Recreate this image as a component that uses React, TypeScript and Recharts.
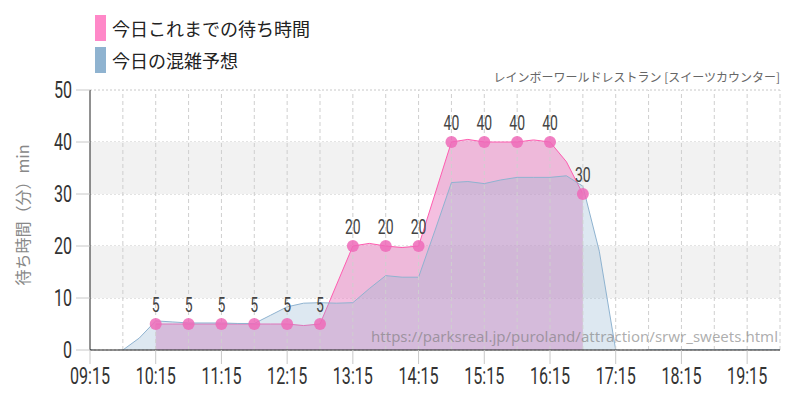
import { ComposedChart, Area, Line, XAxis, YAxis, CartesianGrid, ReferenceArea, ReferenceLine, LabelList } from "recharts";

// 15-minute slots from 09:15 to 19:45
const times = [
  "09:15", "09:30", "09:45", "10:00", "10:15", "10:30", "10:45", "11:00", "11:15", "11:30", "11:45",
  "12:00", "12:15", "12:30", "12:45", "13:00", "13:15", "13:30", "13:45", "14:00", "14:15", "14:30",
  "14:45", "15:00", "15:15", "15:30", "15:45", "16:00", "16:15", "16:30", "16:45", "17:00", "17:15",
  "17:30", "17:45", "18:00", "18:15", "18:30", "18:45", "19:00", "19:15", "19:30", "19:45",
];

// 今日の混雑予想 (forecast)
const forecast = [
  0, -0.3, 0, 2.3, 5.6, 5.4, 5.2, 5.2, 5.2, 5.1, 5.1,
  6.7, 8.3, 9.0, 9.1, 9.0, 9.1, 11.8, 14.3, 14.0, 14.0, 23,
  32.2, 32.4, 32.0, 32.7, 33.2, 33.2, 33.2, 33.5, 31.5, 19, 0,
  -0.4, 0, 0, 0, 0, 0, 0, 0, 0, 0,
];

// 今日これまでの待ち時間 (actual line, null = no reading)
const waitLine = [
  null, null, null, null, 5, 5, 5, 5, 5, 5, 5,
  5, 5, 4.7, 5, null, 20, 20.5, 20, 19.7, 20, null,
  40, 40.5, 40, 40, 40, 40.4, 40, 36.2, 30, null, null,
  null, null, null, null, null, null, null, null, null, null,
];

// recorded points with markers
const markTimes = ["10:15", "10:45", "11:15", "11:45", "12:15", "12:45", "13:15", "13:45", "14:15", "14:45", "15:15", "15:45", "16:15", "16:45"];
const markValues = [5, 5, 5, 5, 5, 5, 20, 20, 20, 40, 40, 40, 40, 30];

const xTickLabels = ["09:15", "10:15", "11:15", "12:15", "13:15", "14:15", "15:15", "16:15", "17:15", "18:15", "19:15"];
const yTicks = [0, 10, 20, 30, 40, 50];

const toMin = (s: string) => {
  const [h, m] = s.split(":").map(Number);
  return h * 60 + m;
};
const fmt = (v: number) => {
  const h = Math.floor(v / 60);
  const m = v % 60;
  return `${String(h).padStart(2, "0")}:${String(m).padStart(2, "0")}`;
};

const data = times.map((t, i) => {
  const mi = markTimes.indexOf(t);
  return { t: toMin(t), forecast: forecast[i], wait: waitLine[i], mark: mi >= 0 ? markValues[mi] : null };
});

const X0 = toMin("09:15");
const X1 = toMin("19:45");
const gridX: number[] = [];
for (let v = X0 + 30; v <= X1; v += 30) gridX.push(v);

// condensed look: Roboto squeezed horizontally
const NUM_FONT = "Roboto, sans-serif";
const SQUEEZE = 0.7;
const JP = "'Noto Sans CJK JP', sans-serif";

const XTick = (p: any) => (
  <g transform={`translate(${p.x},${p.y})`}>
    <text transform={`scale(${SQUEEZE},1)`} textAnchor="middle" y={16} fill="#333" fontSize={23} fontFamily={NUM_FONT}>
      {fmt(p.payload.value)}
    </text>
  </g>
);

const YTick = (p: any) => (
  <g transform={`translate(${p.x},${p.y})`}>
    <text transform={`scale(${SQUEEZE},1)`} textAnchor="end" y={8} fill="#333" fontSize={23} fontFamily={NUM_FONT}>
      {p.payload.value}
    </text>
  </g>
);

const PointLabel = (p: any) => {
  if (p.value == null) return null;
  return (
    <g transform={`translate(${p.x},${p.y - 12})`}>
      <text transform={`scale(${SQUEEZE},1)`} textAnchor="middle" fill="#444" fontSize={20} fontFamily={NUM_FONT}>
        {p.value}
      </text>
    </g>
  );
};

export default function App() {
  return (
    <div style={{ position: "absolute", left: 0, top: 0, width: 800, height: 400, background: "#fff", fontFamily: JP }}>
      <ComposedChart width={800} height={400} data={data} margin={{ top: 90, right: 20, bottom: 0, left: 0 }}>
        <ReferenceArea y1={10} y2={20} fill="#f2f2f2" fillOpacity={1} stroke="none" />
        <ReferenceArea y1={30} y2={40} fill="#f2f2f2" fillOpacity={1} stroke="none" />
        <CartesianGrid vertical={false} stroke="#c8c8c8" strokeDasharray="2 2" />
        {gridX.map((v) => (
          <ReferenceLine key={v} x={v} stroke="#cfcfcf" strokeDasharray="4 3" />
        ))}
        <XAxis
          type="number"
          dataKey="t"
          domain={[X0, X1]}
          ticks={xTickLabels.map(toMin)}
          height={50}
          tickSize={14}
          tickMargin={4}
          stroke="#222"
          tickLine={{ stroke: "#c8c8c8" }}
          tick={XTick}
          allowDataOverflow
        />
        <YAxis
          domain={[0, 50]}
          ticks={yTicks}
          width={90}
          tickSize={14}
          tickMargin={4}
          stroke="#222"
          tickLine={{ stroke: "#c8c8c8" }}
          tick={YTick}
          allowDataOverflow
        />
        <Area
          type="linear"
          dataKey="wait"
          stroke="#ff5cb0"
          strokeWidth={1}
          fill="#ea7fc2"
          fillOpacity={0.5}
          connectNulls
          dot={false}
          activeDot={false}
          isAnimationActive={false}
        />
        <Area
          type="linear"
          dataKey="forecast"
          stroke="#8fb3d0"
          strokeWidth={1}
          fill="#8fb3d0"
          fillOpacity={0.3}
          dot={false}
          activeDot={false}
          isAnimationActive={false}
        />
        <Line
          dataKey="mark"
          stroke="none"
          dot={{ r: 6, fill: "#ee6ab8", fillOpacity: 0.85, stroke: "none" }}
          activeDot={false}
          isAnimationActive={false}
        >
          <LabelList dataKey="mark" content={PointLabel} />
        </Line>
      </ComposedChart>

      {/* legend */}
      <div style={{ position: "absolute", left: 95, top: 15, width: 11, height: 26, background: "#ff88c8" }} />
      <div style={{ position: "absolute", left: 112, top: 15, height: 26, lineHeight: "26px", fontSize: 18, color: "#222" }}>
        今日これまでの待ち時間
      </div>
      <div style={{ position: "absolute", left: 95, top: 47, width: 11, height: 26, background: "#8fb3d0" }} />
      <div style={{ position: "absolute", left: 112, top: 47, height: 26, lineHeight: "26px", fontSize: 18, color: "#222" }}>
        今日の混雑予想
      </div>

      {/* subtitle */}
      <div style={{ position: "absolute", right: 20, top: 67, fontSize: 12, lineHeight: "20px", color: "#666", whiteSpace: "nowrap" }}>
        レインボーワールドレストラン [スイーツカウンター]
      </div>

      {/* y axis title */}
      <div
        style={{
          position: "absolute", left: -78, top: 204, width: 200, height: 22, lineHeight: "22px",
          textAlign: "center", transform: "rotate(-90deg)", fontSize: 16, color: "#888", whiteSpace: "nowrap",
        }}
      >
        待ち時間（分）min
      </div>

      {/* watermark */}
      <div style={{ position: "absolute", right: 22, top: 326, fontSize: 15, lineHeight: "20px", color: "rgba(120,120,120,0.6)", whiteSpace: "nowrap", pointerEvents: "none", fontFamily: "'Noto Sans', sans-serif" }}>
        https://parksreal.jp/puroland/attraction/srwr_sweets.html
      </div>
    </div>
  );
}
